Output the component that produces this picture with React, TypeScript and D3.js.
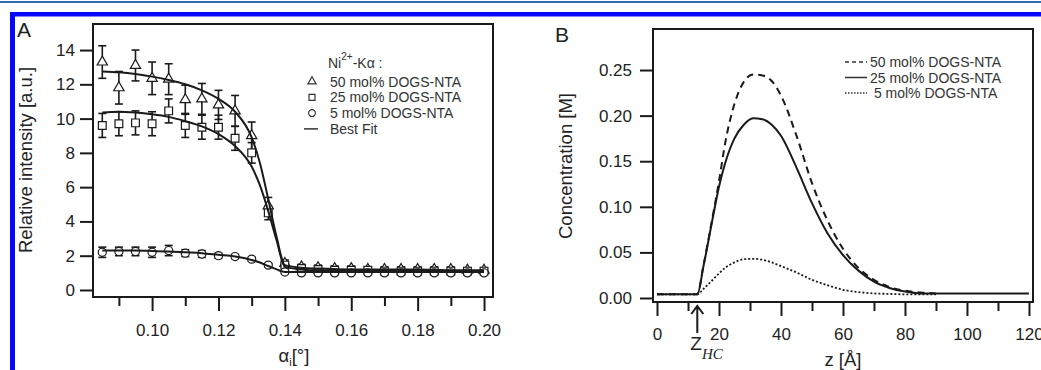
import { useEffect, useRef } from "react"
import * as d3 from "d3"

// Panel A: incidence angle (deg) and Ni2+ K-alpha intensity
const alphaI = [0.085, 0.09, 0.095, 0.1, 0.105, 0.11, 0.115, 0.12, 0.125, 0.13, 0.135, 0.14, 0.145, 0.15, 0.155, 0.16, 0.165, 0.17, 0.175, 0.18, 0.185, 0.19, 0.195, 0.2]
const int50 = [13.3, 11.8, 13.1, 12.35, 12.3, 11.1, 11.15, 10.8, 10.45, 9.0, 4.9, 1.55, 1.35, 1.3, 1.25, 1.25, 1.2, 1.2, 1.2, 1.2, 1.2, 1.2, 1.15, 1.15]
const err50 = [0.95, 0.95, 0.9, 0.95, 0.9, 0.85, 0.9, 0.85, 0.9, 0.8, 0.5, 0.2, 0.15, 0.15, 0.15, 0.15, 0.15, 0.15, 0.15, 0.15, 0.15, 0.15, 0.15, 0.15]
const int25 = [9.6, 9.7, 9.75, 9.7, 10.45, 9.6, 9.5, 9.5, 8.85, 8.0, 4.5, 1.45, 1.25, 1.2, 1.15, 1.15, 1.15, 1.1, 1.1, 1.1, 1.1, 1.1, 1.1, 1.1]
const err25 = [0.7, 0.7, 0.7, 0.7, 0.7, 0.7, 0.7, 0.7, 0.7, 0.6, 0.4, 0.15, 0.12, 0.12, 0.12, 0.12, 0.12, 0.12, 0.12, 0.12, 0.12, 0.12, 0.12, 0.12]
const int5 = [2.2, 2.25, 2.25, 2.2, 2.3, 2.15, 2.1, 2.0, 1.95, 1.8, 1.45, 1.05, 1.0, 1.0, 1.0, 1.0, 1.0, 1.0, 1.0, 1.0, 1.0, 1.0, 1.0, 1.0]
const err5 = [0.3, 0.25, 0.25, 0.3, 0.3, 0.2, 0.2, 0.15, 0.12, 0.1, 0.1, 0.1, 0.1, 0.1, 0.1, 0.1, 0.1, 0.1, 0.1, 0.1, 0.1, 0.1, 0.1, 0.1]

// best fit curves
const fitAlpha = [0.085, 0.09, 0.095, 0.1, 0.105, 0.11, 0.115, 0.12, 0.125, 0.13, 0.1325, 0.135, 0.1375, 0.14, 0.145, 0.15, 0.16, 0.17, 0.18, 0.19, 0.2]
const fit50 = [12.75, 12.7, 12.6, 12.45, 12.25, 12.0, 11.65, 11.15, 10.4, 8.9, 7.4, 5.3, 3.1, 1.45, 1.3, 1.25, 1.2, 1.2, 1.2, 1.15, 1.15]
const fit25 = [10.35, 10.4, 10.35, 10.25, 10.1, 9.85, 9.55, 9.1, 8.4, 7.2, 6.1, 4.6, 2.9, 1.35, 1.2, 1.15, 1.15, 1.1, 1.1, 1.1, 1.1]
const fit5 = [2.3, 2.3, 2.3, 2.28, 2.25, 2.2, 2.15, 2.05, 1.95, 1.75, 1.6, 1.4, 1.2, 1.05, 1.05, 1.05, 1.05, 1.05, 1.05, 1.05, 1.05]

const intensityTicks = [0, 2, 4, 6, 8, 10, 12, 14]
const alphaTicks = [0.1, 0.12, 0.14, 0.16, 0.18, 0.2]
const alphaMinor = [0.09, 0.11, 0.13, 0.15, 0.17, 0.19]
const legendA = ["50 mol% DOGS-NTA", "25 mol% DOGS-NTA", "5 mol% DOGS-NTA", "Best Fit"]

// Panel B: concentration profiles vs z (Å)
const zPos = [0, 13, 15, 18, 20, 22, 25, 28, 31, 34, 37, 40, 45, 50, 55, 60, 65, 70, 75, 80, 85, 90, 100, 110, 120]
const conc50 = [0.004, 0.004, 0.036, 0.09, 0.128, 0.17, 0.213, 0.237, 0.245, 0.244, 0.238, 0.222, 0.178, 0.126, 0.085, 0.054, 0.033, 0.02, 0.012, 0.008, 0.006, 0.005]
const conc25 = [0.004, 0.004, 0.035, 0.088, 0.122, 0.148, 0.175, 0.19, 0.197, 0.196, 0.19, 0.178, 0.143, 0.104, 0.071, 0.047, 0.03, 0.018, 0.011, 0.007, 0.005, 0.005, 0.005, 0.005, 0.005]
const conc5 = [0.004, 0.004, 0.01, 0.02, 0.027, 0.033, 0.039, 0.0425, 0.043, 0.042, 0.039, 0.035, 0.028, 0.02, 0.014, 0.009, 0.0065, 0.005, 0.0045, 0.004, 0.004, 0.004]
const concTicks = [0, 0.05, 0.1, 0.15, 0.2, 0.25]
const zTicks = [0, 20, 40, 60, 80, 100, 120]
const zMinor = [10, 30, 50, 70, 90, 110]
const zHC = 13
const legendB = ["50 mol% DOGS-NTA", "25 mol% DOGS-NTA", " 5 mol% DOGS-NTA"]

const FONT = "'Liberation Sans', Arial, Helvetica, sans-serif"
const INK = "#1a1a1a"
const TXT = "#222"

export default function App() {
  const svgRef = useRef<SVGSVGElement>(null)

  useEffect(() => {
    if (!svgRef.current) return
    document.body.style.margin = "0"
    const svg = d3.select(svgRef.current)
    svg.selectAll("*").remove()

    // page decoration (blue rules)
    svg.append("rect").attr("x", 0).attr("y", 1).attr("width", 1041).attr("height", 2).attr("fill", "#2d6cb4")
    svg.append("rect").attr("x", 10).attr("y", 12).attr("width", 1031).attr("height", 4.5).attr("fill", "#0808f8")
    svg.append("rect").attr("x", 10).attr("y", 12).attr("width", 5).attr("height", 358).attr("fill", "#0808f8")

    const styleAxis = (g: any) => {
      g.select(".domain").remove()
      g.selectAll("line").attr("stroke", INK).attr("stroke-width", 2)
      g.selectAll("text").attr("font-size", 17).attr("font-family", FONT).attr("fill", TXT)
    }

    // ---------- Panel A ----------
    const xA = d3.scaleLinear().domain([0.0822, 0.2027]).range([93, 493])
    const yA = d3.scaleLinear().domain([-0.41, 15.52]).range([297, 24])

    svg.append("g").attr("transform", "translate(93,0)")
      .call(d3.axisLeft(yA).tickValues(intensityTicks).tickSize(13).tickPadding(5).tickFormat(d3.format("d")) as any)
      .call(styleAxis)
    svg.append("g").attr("transform", "translate(0,297)")
      .call(d3.axisBottom(xA).tickValues(alphaTicks).tickSize(14).tickPadding(13).tickFormat(d3.format(".2f")) as any)
      .call(styleAxis)
    svg.append("g").attr("transform", "translate(0,297)")
      .call(d3.axisBottom(xA).tickValues(alphaMinor).tickSize(9).tickFormat(() => "") as any)
      .call(styleAxis)

    const seriesA = [
      { vals: int50, errs: err50, sym: d3.symbolTriangle, size: 46 },
      { vals: int25, errs: err25, sym: d3.symbolSquare, size: 60 },
      { vals: int5, errs: err5, sym: d3.symbolCircle, size: 52 },
    ]

    // error bars
    seriesA.forEach((s) => {
      const eb = svg.append("g").attr("stroke", INK).attr("stroke-width", 1.6)
      alphaI.forEach((a, i) => {
        const cx = xA(a)
        const y0 = yA(s.vals[i] - s.errs[i])
        const y1 = yA(s.vals[i] + s.errs[i])
        eb.append("line").attr("x1", cx).attr("x2", cx).attr("y1", y0).attr("y2", y1)
        eb.append("line").attr("x1", cx - 4).attr("x2", cx + 4).attr("y1", y0).attr("y2", y0)
        eb.append("line").attr("x1", cx - 4).attr("x2", cx + 4).attr("y1", y1).attr("y2", y1)
      })
    })

    // symbols
    seriesA.forEach((s) => {
      svg.append("g").selectAll("path")
        .data(alphaI)
        .enter()
        .append("path")
        .attr("transform", (a, i) => `translate(${xA(a)},${yA(s.vals[i])})`)
        .attr("d", d3.symbol().type(s.sym).size(s.size)() as string)
        .attr("fill", "white")
        .attr("stroke", INK)
        .attr("stroke-width", 1.2)
    })

    // best fits
    const fitLine = d3.line<number>()
      .x((_, i) => xA(fitAlpha[i]))
      .y((d) => yA(d))
      .curve(d3.curveMonotoneX)
    ;[fit50, fit25, fit5].forEach((f) => {
      svg.append("path").datum(f).attr("fill", "none").attr("stroke", INK).attr("stroke-width", 2).attr("d", fitLine)
    })

    svg.append("rect").attr("x", 93).attr("y", 24).attr("width", 400).attr("height", 273)
      .attr("fill", "none").attr("stroke", INK).attr("stroke-width", 2)

    // legend A
    const lgA = svg.append("g").attr("font-family", FONT).attr("font-size", 14).attr("fill", "#333")
    const head = lgA.append("text").attr("x", 328).attr("y", 68)
    head.append("tspan").text("Ni")
    head.append("tspan").attr("font-size", 10).attr("dy", -8).text("2+")
    head.append("tspan").attr("dy", 8).text("-K\u03b1 :")
    const legSyms = [d3.symbolTriangle, d3.symbolSquare, d3.symbolCircle]
    legendA.forEach((lab, i) => {
      const by = 86.5 + i * 15.8
      lgA.append("text").attr("x", 330).attr("y", by).text(lab)
      if (i < 3) {
        lgA.append("path")
          .attr("transform", `translate(312,${by - 5})`)
          .attr("d", d3.symbol().type(legSyms[i]).size(i === 0 ? 30 : 36)() as string)
          .attr("fill", "none").attr("stroke", "#333").attr("stroke-width", 1.2)
      } else {
        lgA.append("line").attr("x1", 304).attr("x2", 318).attr("y1", by - 5).attr("y2", by - 5)
          .attr("stroke", "#333").attr("stroke-width", 1.5)
      }
    })

    svg.append("text").attr("x", 17).attr("y", 37).attr("font-family", FONT).attr("font-size", 21).attr("fill", TXT).text("A")
    svg.append("text").attr("transform", "translate(32,160) rotate(-90)").attr("text-anchor", "middle")
      .attr("font-family", FONT).attr("font-size", 18.5).attr("fill", TXT).text("Relative intensity [a.u.]")
    const xtA = svg.append("text").attr("x", 294).attr("y", 362).attr("text-anchor", "middle")
      .attr("font-family", FONT).attr("font-size", 18.5).attr("fill", TXT)
    xtA.append("tspan").text("\u03b1")
    xtA.append("tspan").attr("font-size", 11).attr("dy", 4).text("i")
    xtA.append("tspan").attr("dy", -4).text("[\u00b0]")

    // ---------- Panel B ----------
    const xB = d3.scaleLinear().domain([-1.29, 121.3]).range([653, 1033])
    const yB = d3.scaleLinear().domain([-0.0044, 0.295]).range([302, 29])

    svg.append("g").attr("transform", "translate(653,0)")
      .call(d3.axisLeft(yB).tickValues(concTicks).tickSize(13).tickPadding(8).tickFormat(d3.format(".2f")) as any)
      .call(styleAxis)
    svg.append("g").attr("transform", "translate(0,302)")
      .call(d3.axisBottom(xB).tickValues(zTicks).tickSize(14).tickPadding(12).tickFormat(d3.format("d")) as any)
      .call(styleAxis)
    svg.append("g").attr("transform", "translate(0,302)")
      .call(d3.axisBottom(xB).tickValues(zMinor).tickSize(9).tickFormat(() => "") as any)
      .call(styleAxis)

    const profile = d3.line<number>()
      .x((_, i) => xB(zPos[i]))
      .y((d) => yB(d))
      .curve(d3.curveMonotoneX)
    const dashes = ["7,5", null, "2,2"]
    ;[conc50, conc25, conc5].forEach((c, k) => {
      svg.append("path").datum(c).attr("fill", "none").attr("stroke", INK)
        .attr("stroke-width", k === 2 ? 1.8 : 2)
        .attr("stroke-dasharray", dashes[k])
        .attr("d", profile)
    })

    svg.append("rect").attr("x", 653).attr("y", 29).attr("width", 380).attr("height", 273)
      .attr("fill", "none").attr("stroke", INK).attr("stroke-width", 2)

    // legend B
    const lgB = svg.append("g").attr("font-family", FONT).attr("font-size", 14).attr("fill", "#333")
    const legDash = ["4,3", null, "1.5,1.5"]
    legendB.forEach((lab, i) => {
      const by = 67 + i * 15.5
      lgB.append("line").attr("x1", 845).attr("x2", 867).attr("y1", by - 5).attr("y2", by - 5)
        .attr("stroke", "#333").attr("stroke-width", 1.5).attr("stroke-dasharray", legDash[i])
      lgB.append("text").attr("x", 870).attr("y", by).attr("xml:space", "preserve").style("white-space", "pre").text(lab)
    })

    // z_HC marker
    const ax = xB(zHC)
    svg.append("path")
      .attr("d", `M${ax},333 L${ax},306 M${ax - 6},314 L${ax},306 L${ax + 6},314`)
      .attr("fill", "none").attr("stroke", INK).attr("stroke-width", 2)
    const zl = svg.append("text").attr("x", ax - 7).attr("y", 350).attr("font-family", FONT).attr("font-size", 19).attr("fill", TXT)
    zl.append("tspan").text("Z")
    zl.append("tspan").attr("font-family", "'Liberation Serif', 'Times New Roman', serif").attr("font-style", "italic")
      .attr("font-size", 15).attr("dy", 9).text("HC")

    svg.append("text").attr("x", 555).attr("y", 42).attr("font-family", FONT).attr("font-size", 21).attr("fill", TXT).text("B")
    svg.append("text").attr("transform", "translate(572,166) rotate(-90)").attr("text-anchor", "middle")
      .attr("font-family", FONT).attr("font-size", 18.5).attr("fill", TXT).text("Concentration [M]")
    svg.append("text").attr("x", 843).attr("y", 366).attr("text-anchor", "middle")
      .attr("font-family", FONT).attr("font-size", 18.5).attr("fill", TXT).text("z [\u00c5]")
  }, [])

  return <svg ref={svgRef} width={1041} height={370} style={{ display: "block", background: "white" }} />
}
